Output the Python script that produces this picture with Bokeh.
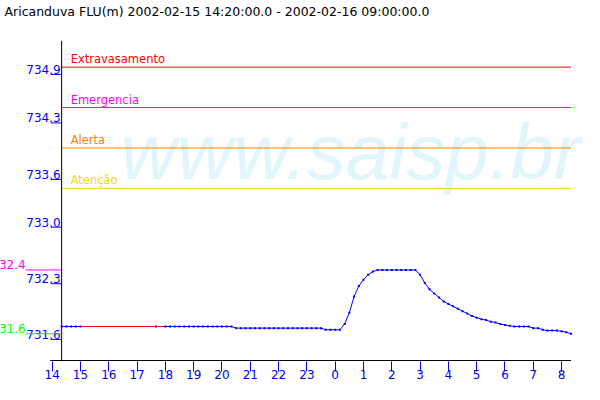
import numpy as np
import pandas as pd
from bokeh.plotting import figure
from bokeh.models import Range1d, FixedTicker, CustomJSTickFormatter, Span, Label
from bokeh.core.properties import value
from bokeh.embed import file_html
from bokeh.resources import INLINE

# ---------------- data ----------------
title_text = "Aricanduva FLU(m) 2002-02-15 14:20:00.0 - 2002-02-16 09:00:00.0"
series_start = "2002-02-15 14:20"
series_end = "2002-02-16 08:20"
series_step = "10min"

levels = [
    731.74, 731.74, 731.74, 731.74, 731.74,                      # 14:20-15:00
    None, None, None, None, None, None, None, None, None, None,  # 15:10-16:40
    None, None, None, None, None,                                # 16:50-17:30
    731.74,                                                      # 17:40
    None,                                                        # 17:50
    731.74, 731.74, 731.74, 731.74, 731.74, 731.74, 731.74, 731.74,  # 18:00-19:10
    731.74, 731.74, 731.74, 731.74, 731.74, 731.74, 731.74,          # 19:20-20:20
    731.72, 731.72, 731.72, 731.72, 731.72, 731.72, 731.72, 731.72,  # 20:30-21:40
    731.72, 731.72, 731.72, 731.72, 731.72, 731.72, 731.72, 731.72,  # 21:50-23:00
    731.72, 731.72, 731.72,                                          # 23:10-23:30
    731.70, 731.70, 731.70, 731.70,                                  # 23:40-00:10
    731.77, 731.91, 732.11, 732.24, 732.32, 732.38, 732.42,          # 00:20-01:20
    732.44, 732.44, 732.44, 732.44, 732.44, 732.44, 732.44, 732.44, 732.44,  # 01:30-02:50
    732.38, 732.28, 732.20, 732.15, 732.10, 732.05,                  # 03:00-03:50
    732.02, 731.99, 731.96, 731.93, 731.90, 731.87,                  # 04:00-04:50
    731.85, 731.83, 731.82, 731.80, 731.79, 731.77,                  # 05:00-05:50
    731.76, 731.75, 731.74, 731.74, 731.74, 731.74,                  # 06:00-06:50
    731.72, 731.72, 731.70, 731.69, 731.69, 731.69,                  # 07:00-07:50
    731.68, 731.67, 731.65,                                          # 08:00-08:20
]

threshold_names = ["Extravasamento", "Emergencia", "Alerta", "Atenção"]
threshold_values = [734.95, 734.45, 733.95, 733.45]
threshold_colors = ["#FF0000", "#FF00FF", "#FF8000", "#FFD700"]

y_ticks = [731.58, 732.27, 732.97, 733.56, 734.26, 734.86]
x_range_start = "2002-02-15 12:10:24"
x_range_end = "2002-02-16 09:22:30"
x_tick_start = "2002-02-15 14:00"
x_tick_end = "2002-02-16 08:00"
y_range = (731.307, 735.280)
watermark = "www.saisp.br"

BLUE = "#0000FF"
FONT = "DejaVu Sans"
W, H = 600, 400
TOP, BOTTOM = 40, 39
FRAME_W, FRAME_H = W, H - TOP - BOTTOM


def to_ms(ts):
    return pd.DatetimeIndex(ts).values.astype("datetime64[ms]").astype(np.int64).astype(float)


times = pd.date_range(series_start, series_end, freq=series_step)
t = to_ms(times)
v = np.array([np.nan if x is None else x for x in levels], dtype=float)
valid = ~np.isnan(v)
tv, vv = t[valid], v[valid]
step_ms = pd.Timedelta(series_step).total_seconds() * 1000

# red segments bridging gaps in the record
gap_idx = np.where(np.diff(tv) > step_ms)[0]

xs, xe = to_ms([x_range_start, x_range_end])
y0, y1 = y_range
ms_per_px = (xe - xs) / FRAME_W
val_per_px = (y1 - y0) / FRAME_H
t_first, t_last = tv[0], tv[-1]
hours = to_ms(pd.date_range(x_tick_start, x_tick_end, freq="h"))
axis_y = y0 + 1 * val_per_px

p = figure(width=W, height=H, x_axis_type="datetime", y_axis_location=None,
           x_range=Range1d(xs, xe), y_range=Range1d(y0, y1),
           output_backend="svg", toolbar_location=None,
           min_border_left=0, min_border_right=0,
           min_border_top=TOP, min_border_bottom=BOTTOM)
p.outline_line_color = None
p.grid.visible = False
p.background_fill_color = "white"
p.border_fill_color = "white"

# title
p.title.text = title_text
p.title.text_font = FONT
p.title.text_font_size = "12.5px"
p.title.text_font_style = "normal"
p.title.text_color = "black"
p.title.align = "left"
p.title.vertical_align = "bottom"
p.title.offset = 4
p.title.standoff = 0
p.title.padding = dict(left=0, right=0, top=0, bottom=22)

# watermark
p.add_layout(Label(x=xs + 0.2 * (xe - xs), y=y0 + 0.654 * (y1 - y0),
                   text=watermark, text_font="Liberation Sans", text_font_style="italic",
                   text_font_size="78px", text_color="#E1F5FD", text_baseline="middle",
                   level="underlay"))

# threshold lines and their names
n_thr = len(threshold_values)
p.segment(x0=[t_first] * n_thr, y0=threshold_values, x1=[t_last] * n_thr, y1=threshold_values,
          line_color=threshold_colors, line_width=1)
p.text(x=[t_first] * n_thr, y=threshold_values, text=threshold_names,
       text_color=threshold_colors, x_offset=9, y_offset=-8, text_baseline="middle",
       text_font=value(FONT), text_font_size=value("11.5px"))

# data
p.segment(x0=tv[gap_idx], y0=vv[gap_idx], x1=tv[gap_idx + 1], y1=vv[gap_idx + 1],
          line_color="#FF0000", line_width=1)
p.line(t, v, line_color=BLUE, line_width=1)
p.scatter(tv, vv, marker="square", size=2, color=BLUE, line_width=0)

# value axis: line, ticks and labels
p.add_layout(Span(location=t_first, dimension="height", line_color="black", line_width=1))
p.segment(x0=[t_first - 11 * ms_per_px] * len(y_ticks), y0=y_ticks,
          x1=[t_first] * len(y_ticks), y1=y_ticks, line_color=BLUE, line_width=1)
p.text(x=[t_first] * len(y_ticks), y=y_ticks, text=[f"{y:.1f}" for y in y_ticks],
       text_align="right", text_baseline="middle", x_offset=-1, y_offset=-5,
       text_color=BLUE, text_font=value(FONT), text_font_size=value("12px"))

# max / min markers left of the value axis
mx0 = t_first - 36 * ms_per_px
ext_vals = [np.nanmax(v), np.nanmin(v)]
ext_cols = ["#FF00FF", "#00FF00"]
p.segment(x0=[mx0] * 2, y0=ext_vals, x1=[t_first] * 2, y1=ext_vals,
          line_color=ext_cols, line_width=1)
p.text(x=[mx0] * 2, y=ext_vals, text=[f"{np.floor(e * 10 + 1e-6) / 10:.1f}" for e in ext_vals],
       text_align="right", text_baseline="middle", y_offset=-5,
       text_color=ext_cols, text_font=value(FONT), text_font_size=value("12px"))

# time axis line (from first hour tick to last reading)
p.segment(x0=[hours[0] - 2 * ms_per_px], y0=[axis_y], x1=[t_last], y1=[axis_y],
          line_color="black", line_width=1)

xa = p.xaxis[0]
xa.ticker = FixedTicker(ticks=list(hours))
xa.formatter = CustomJSTickFormatter(code="return String(new Date(tick).getUTCHours());")
xa.axis_line_color = None
xa.major_tick_line_color = BLUE
xa.major_tick_out = 10
xa.major_tick_in = 0
xa.minor_tick_line_color = None
xa.major_label_text_color = BLUE
xa.major_label_text_font = FONT
xa.major_label_text_font_size = "12px"
xa.major_label_standoff = -2

open("out.html", "w").write(file_html(p, INLINE))
